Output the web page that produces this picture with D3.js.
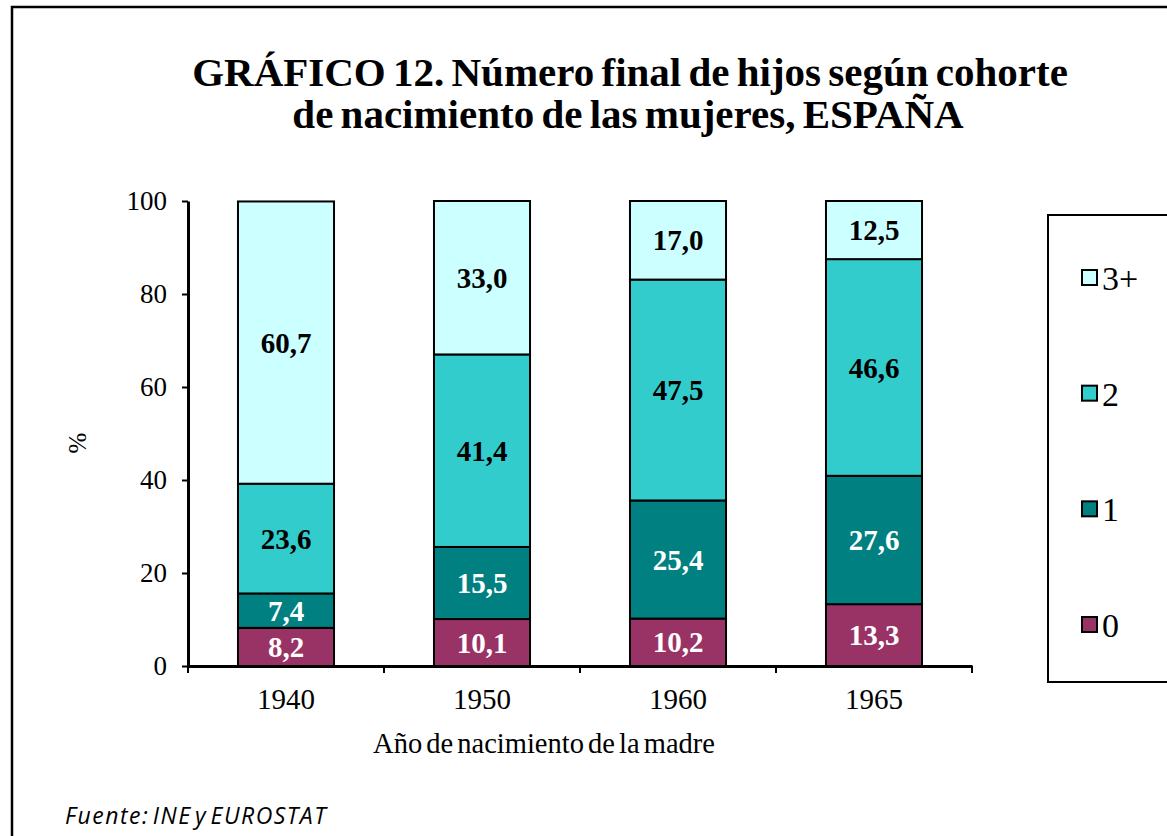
<!DOCTYPE html>
<html>
<head>
<meta charset="utf-8">
<script src="https://cdn.jsdelivr.net/npm/d3@7"></script>
<style>
  body { margin: 0; background: #fff; }
  svg { display: block; }
</style>
</head>
<body>
<div id="chart"></div>
<script>
// cohorts and share of women by final number of children (%)
const cohorts = ["1940", "1950", "1960", "1965"];
const seriesKeys = ["0", "1", "2", "3+"];
const hijos0 = [8.2, 10.1, 10.2, 13.3];
const hijos1 = [7.4, 15.5, 25.4, 27.6];
const hijos2 = [23.6, 41.4, 47.5, 46.6];
const hijos3 = [60.7, 33.0, 17.0, 12.5];
const yTicks = [0, 20, 40, 60, 80, 100];

const colors = { "0": "#993366", "1": "#008080", "2": "#33cccc", "3+": "#ccffff" };
const labelColors = { "0": "#fff", "1": "#fff", "2": "#000", "3+": "#000" };

const serif = "Liberation Serif, Times New Roman, serif";
const width = 1167, height = 836;
const margin = { top: 201, left: 188, right: 195, bottom: 170 };
const plotW = width - margin.left - margin.right;
const plotH = height - margin.top - margin.bottom;

const rows = cohorts.map((c, i) => ({
    cohort: c, "0": hijos0[i], "1": hijos1[i], "2": hijos2[i], "3+": hijos3[i]
}));
const stacked = d3.stack().keys(seriesKeys)(rows);

const svg = d3.select("#chart")
    .append("svg")
    .attr("width", width)
    .attr("height", height);

// outer frame (runs off the page on the right and bottom)
svg.append("rect")
    .attr("x", 12).attr("y", 7)
    .attr("width", width).attr("height", height)
    .attr("fill", "none")
    .attr("stroke", "#000")
    .attr("stroke-width", 2.5);

// title
const title = svg.append("text")
    .attr("text-anchor", "middle")
    .style("font-family", serif)
    .style("font-weight", "bold")
    .style("font-size", "41px")
    .style("word-spacing", "-3px");
title.append("tspan").attr("x", 630).attr("y", 86)
    .text("GRÁFICO 12. Número final de hijos según cohorte");
title.append("tspan").attr("x", 628).attr("y", 128)
    .text("de nacimiento de las mujeres, ESPAÑA");

const g = svg.append("g")
    .attr("transform", "translate(" + margin.left + "," + margin.top + ")");

const x = d3.scaleBand()
    .domain(cohorts)
    .range([0, plotW])
    .paddingInner(0.51)
    .paddingOuter(0.255);

const y = d3.scaleLinear()
    .domain([0, 100])
    .range([plotH, 0]);

// bars
const layer = g.selectAll("g.layer")
    .data(stacked)
    .enter()
    .append("g")
    .attr("class", "layer");

layer.selectAll("rect")
    .data(d => d.map(p => ({ key: d.key, p: p })))
    .enter()
    .append("rect")
    .attr("x", d => x(d.p.data.cohort))
    .attr("width", x.bandwidth())
    .attr("y", d => y(Math.min(d.p[1], 100)))
    .attr("height", d => y(d.p[0]) - y(Math.min(d.p[1], 100)))
    .attr("fill", d => colors[d.key])
    .attr("stroke", "#000")
    .attr("stroke-width", 2);

// value labels
layer.selectAll("text")
    .data(d => d.map(p => ({ key: d.key, p: p })))
    .enter()
    .append("text")
    .attr("x", d => x(d.p.data.cohort) + x.bandwidth() / 2)
    .attr("y", d => y((d.p[0] + Math.min(d.p[1], 100)) / 2))
    .attr("dy", "0.35em")
    .attr("text-anchor", "middle")
    .attr("fill", d => labelColors[d.key])
    .style("font-family", serif)
    .style("font-weight", "bold")
    .style("font-size", "29px")
    .text(d => d3.format(".1f")(d.p[1] - d.p[0]).replace(".", ","));

// y axis
const yAxis = g.append("g")
    .call(d3.axisLeft(y).tickValues(yTicks).tickSize(6).tickPadding(15).tickSizeOuter(0));
yAxis.selectAll("text")
    .style("font-family", serif)
    .style("font-size", "27px")
    .attr("fill", "#000");

// x axis with ticks between categories
const xAxis = g.append("g")
    .attr("transform", "translate(0," + plotH + ")")
    .call(d3.axisBottom(x).tickSize(0).tickPadding(22).tickSizeOuter(0));
xAxis.selectAll("text")
    .style("font-family", serif)
    .style("font-size", "29px")
    .attr("fill", "#000");
const step = x.step();
xAxis.selectAll("line.sep")
    .data(d3.range(cohorts.length + 1))
    .enter()
    .append("line")
    .attr("class", "sep")
    .attr("x1", i => i * step).attr("x2", i => i * step)
    .attr("y1", 0).attr("y2", 7)
    .attr("stroke", "#000")
    .attr("stroke-width", 2);

g.selectAll(".domain").attr("stroke-width", 3).attr("stroke", "#000");
g.selectAll(".tick line").attr("stroke-width", 2).attr("stroke", "#000");

// axis titles
svg.append("text")
    .attr("x", 544).attr("y", 753)
    .attr("text-anchor", "middle")
    .style("font-family", serif)
    .style("font-size", "28.5px")
    .style("word-spacing", "-3px")
    .text("Año de nacimiento de la madre");

svg.append("text")
    .attr("transform", "translate(86,443) rotate(-90)")
    .attr("text-anchor", "middle")
    .style("font-family", serif)
    .style("font-size", "25px")
    .text("%");

// legend
const legend = svg.append("g");
legend.append("rect")
    .attr("x", 1048).attr("y", 215)
    .attr("width", 140).attr("height", 467)
    .attr("fill", "#fff")
    .attr("stroke", "#000")
    .attr("stroke-width", 2);

const legendKeys = seriesKeys.slice().reverse();
const legendY = d3.scalePoint()
    .domain(legendKeys)
    .range([278, 625]);

const item = legend.selectAll("g.item")
    .data(legendKeys)
    .enter()
    .append("g")
    .attr("class", "item")
    .attr("transform", d => "translate(1082," + legendY(d) + ")");
item.append("rect")
    .attr("x", 0).attr("y", -8)
    .attr("width", 15).attr("height", 15)
    .attr("fill", d => colors[d])
    .attr("stroke", "#000")
    .attr("stroke-width", 2);
item.append("text")
    .attr("x", 20).attr("y", 0)
    .attr("dy", "0.35em")
    .style("font-family", serif)
    .style("font-size", "34px")
    .text(d => d);

// source
svg.append("text")
    .attr("x", 65).attr("y", 824)
    .style("font-family", "Open Sans, Noto Sans, sans-serif")
    .style("font-style", "italic")
    .style("font-size", "23px")
    .style("letter-spacing", "1.5px")
    .style("word-spacing", "-4px")
    .text("Fuente: INE y EUROSTAT");
</script>
</body>
</html>
